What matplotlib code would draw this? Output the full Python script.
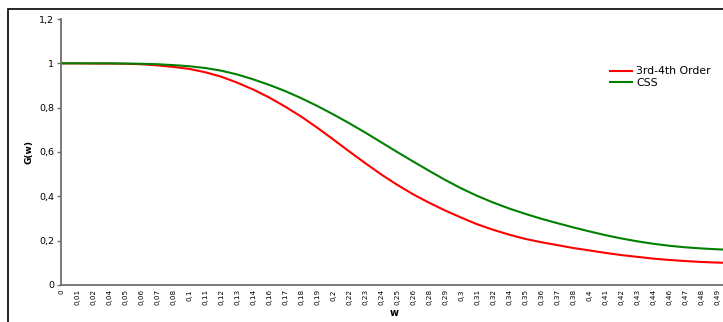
import matplotlib
matplotlib.use('Agg')
import matplotlib.pyplot as plt
from matplotlib.patches import Rectangle

# frequency samples (w) and the two filter responses G(w)
w = [0.0, 0.012, 0.024, 0.036, 0.048, 0.06, 0.072, 0.084, 0.096, 0.108,
     0.12, 0.132, 0.144, 0.156, 0.168, 0.18, 0.192, 0.204, 0.216, 0.228,
     0.24, 0.252, 0.264, 0.276, 0.288, 0.3, 0.312, 0.324, 0.336, 0.348,
     0.36, 0.372, 0.384, 0.396, 0.408, 0.42, 0.432, 0.444, 0.456, 0.468,
     0.48, 0.492, 0.5]

w_labels = ['0', '0,01', '0,02', '0,04', '0,05', '0,06', '0,07', '0,08', '0,1', '0,11',
            '0,12', '0,13', '0,14', '0,16', '0,17', '0,18', '0,19', '0,2', '0,22', '0,23',
            '0,24', '0,25', '0,26', '0,28', '0,29', '0,3', '0,31', '0,32', '0,34', '0,35',
            '0,36', '0,37', '0,38', '0,4', '0,41', '0,42', '0,43', '0,44', '0,46', '0,47',
            '0,48', '0,49']

g_order34 = [1.000, 1.000, 0.999, 0.999, 0.998, 0.996, 0.991, 0.984, 0.975, 0.960,
             0.940, 0.913, 0.882, 0.846, 0.805, 0.760, 0.710, 0.657, 0.603, 0.550,
             0.499, 0.452, 0.409, 0.371, 0.336, 0.304, 0.274, 0.249, 0.227, 0.208,
             0.193, 0.180, 0.167, 0.156, 0.145, 0.135, 0.127, 0.119, 0.113, 0.108,
             0.104, 0.101, 0.100]

g_css = [1.000, 1.000, 1.000, 1.000, 0.999, 0.998, 0.996, 0.992, 0.987, 0.979,
         0.967, 0.950, 0.928, 0.903, 0.875, 0.843, 0.808, 0.770, 0.730, 0.688,
         0.644, 0.600, 0.557, 0.515, 0.474, 0.436, 0.402, 0.372, 0.345, 0.321,
         0.299, 0.279, 0.260, 0.242, 0.225, 0.210, 0.197, 0.186, 0.177, 0.170,
         0.165, 0.161, 0.159]

W, H = 723, 322
fig = plt.figure(figsize=(W / 100, H / 100), dpi=100)

# chart frame (runs off the right and bottom edges)
fig.patches.append(Rectangle((8 / W, -0.1), 1.2, 1 - 9 / H + 0.1, transform=fig.transFigure,
                             fill=False, edgecolor='black', linewidth=1.2))

ax = fig.add_axes([61 / W, 1 - 285 / H, (728 - 61) / W, (285 - 19) / H])
ax.plot(w, g_order34, color='#ff0000', linewidth=1.5, label='3rd-4th Order')
ax.plot(w, g_css, color='#008000', linewidth=1.5, label='CSS')

ax.set_xlim(0, 0.5)
ax.set_ylim(0, 1.2)
ax.set_yticks([0, 0.2, 0.4, 0.6, 0.8, 1.0, 1.2])
ax.set_yticklabels(['0', '0,2', '0,4', '0,6', '0,8', '1', '1,2'], fontsize=6.8)
ax.set_xticks(w[:len(w_labels)])
ax.set_xticklabels(w_labels, rotation=90, fontsize=5.2)
ax.tick_params(axis='x', length=0, pad=3)
ax.tick_params(axis='y', length=3, width=1, color='#707070', pad=2)

for side in ['top', 'right']:
    ax.spines[side].set_visible(False)
for side in ['left', 'bottom']:
    ax.spines[side].set_color('#707070')
    ax.spines[side].set_linewidth(1.3)

ax.set_xlabel('w', fontsize=7, fontweight='bold', labelpad=2)
ax.set_ylabel('G(w)', fontsize=6.5, fontweight='bold', labelpad=4)

ax.legend(loc='upper left', bbox_to_anchor=(606 / W, 1 - 62 / H), bbox_transform=fig.transFigure,
          frameon=False, fontsize=7.8, handlelength=2.0, handletextpad=0.4,
          labelspacing=0.15, borderaxespad=0)

fig.savefig('out.png', dpi=100)
